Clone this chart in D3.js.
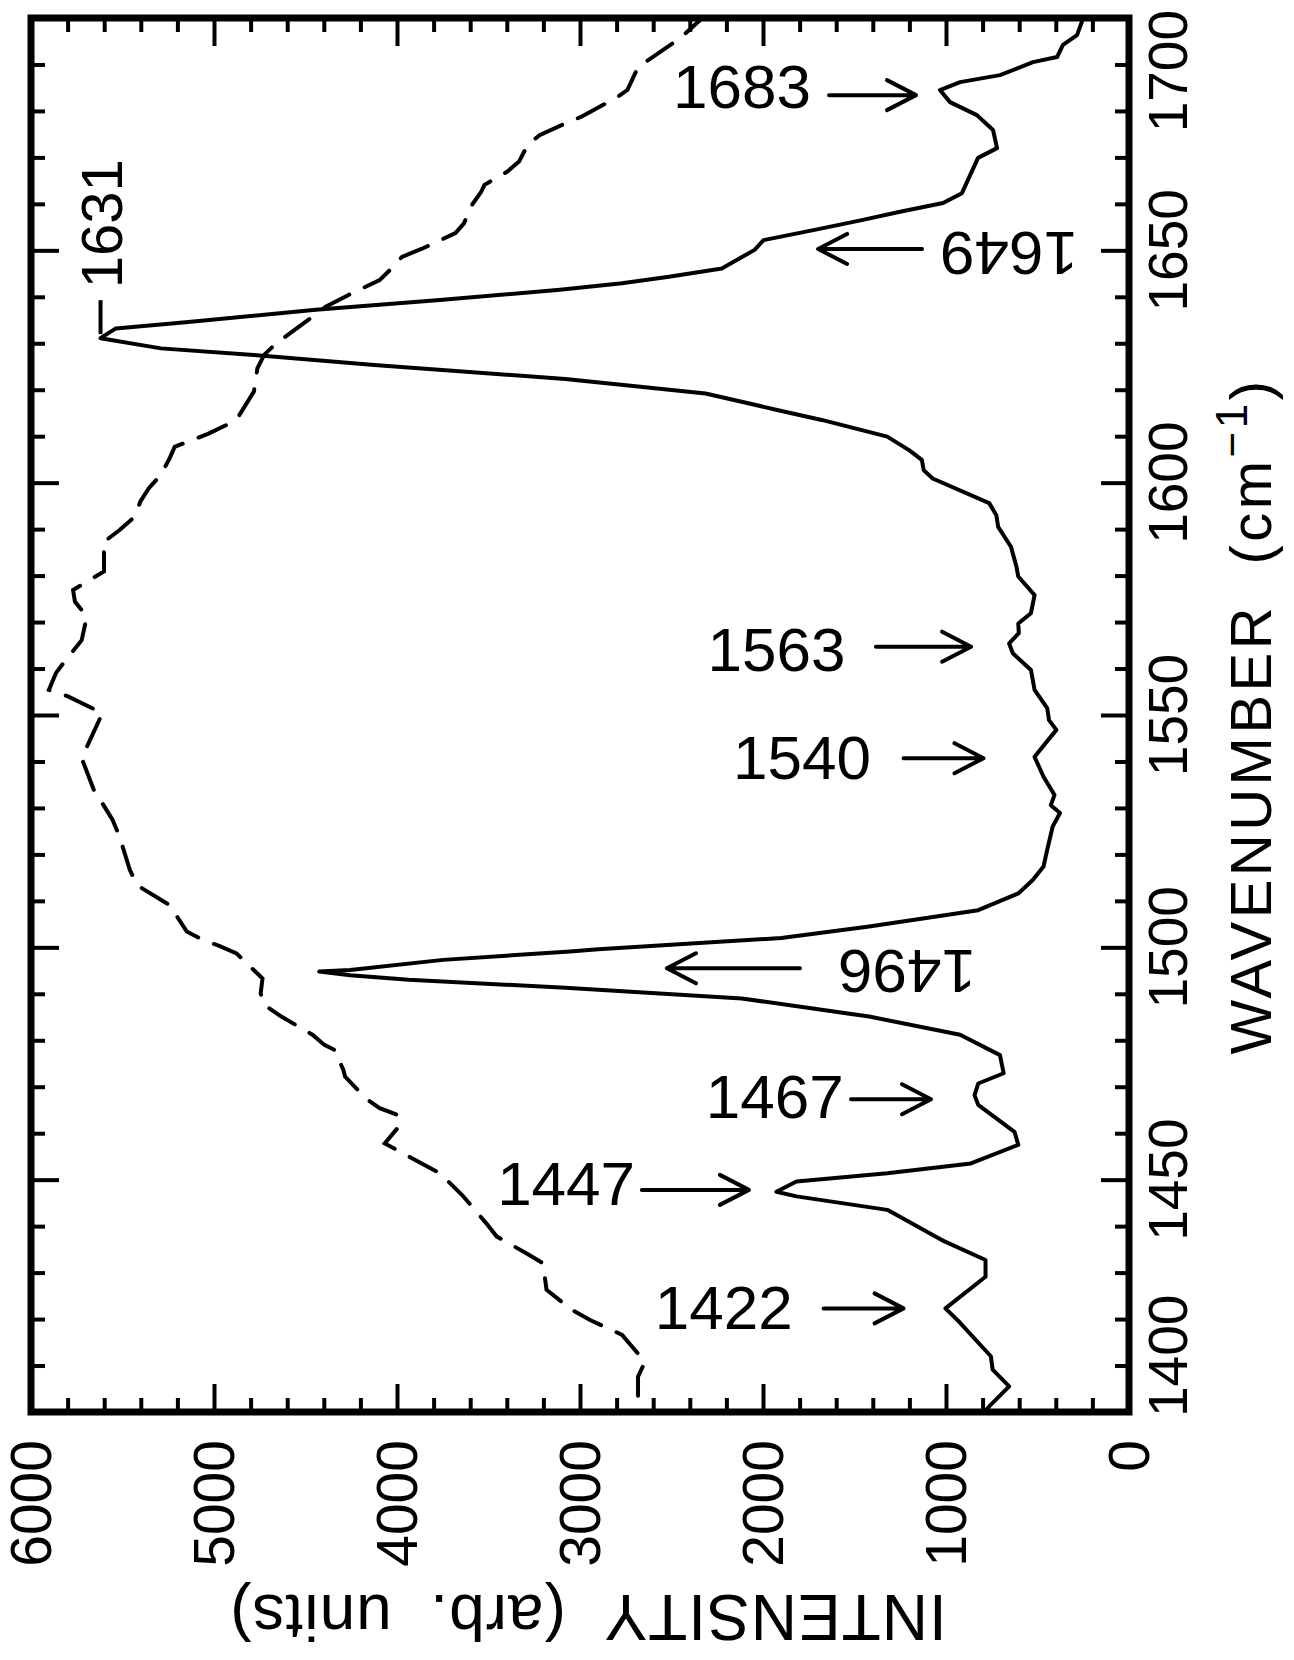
<!DOCTYPE html>
<html>
<head>
<meta charset="utf-8">
<script src="https://cdn.jsdelivr.net/npm/d3@7"></script>
<style>
body { margin: 0; background: #fff; }
text { font-family: "Liberation Sans", Arial, sans-serif; fill: #000; }
</style>
</head>
<body>
<svg id="chart" width="1294" height="1660"></svg>
<script>
// solid curve
const solidWavenumber = [1400, 1401.2, 1405.5, 1409.1, 1412.0, 1419.2, 1422.3, 1429.1, 1432.7, 1437.0,
  1443.5, 1446.4, 1447.4, 1449.6, 1451.4, 1453.5, 1457.5, 1460.3, 1466.1, 1468.2,
  1470.7, 1472.9, 1476.8, 1481.2, 1485.1, 1489.0, 1491.3, 1493.0, 1494.0, 1494.8,
  1495.1, 1497.3, 1499.1, 1499.6, 1502.0, 1504.5, 1508.0, 1511.6, 1514.5, 1517.4,
  1521.0, 1526.0, 1528.9, 1530.6, 1532.8, 1536.7, 1541.0, 1546.8, 1548.9, 1551.5,
  1555.4, 1559.7, 1563.3, 1565.4, 1567.6, 1569.7, 1571.9, 1575.8, 1579.8, 1581.9,
  1586.2, 1590.5, 1593.0, 1595.6, 1600.9, 1602.7, 1604.9, 1607.0, 1609.9, 1613.5,
  1615.6, 1619.2, 1622.3, 1625.3, 1627.5, 1628.9, 1631.1, 1633.2, 1634.6, 1637.2,
  1639.3, 1641.5, 1642.9, 1644.3, 1646.1, 1650.1, 1652.2, 1654.4, 1656.5, 1658.3,
  1660.2, 1662.3, 1669.9, 1672.0, 1675.9, 1679.1, 1681.9, 1684.5, 1686.2, 1687.7,
  1690.5, 1691.6, 1694.2, 1696.3, 1700]
const solidIntensity = [790, 764, 655, 745, 755, 923, 1003, 784, 784, 1023,
  1321, 1817, 1927, 1817, 1321, 864, 605, 626, 824, 844,
  824, 685, 705, 923, 1420, 2116, 3080, 3936, 4256, 4425,
  4256, 3748, 3055, 2900, 1900, 1420, 824, 605, 526, 467,
  447, 417, 377, 427, 407, 467, 516, 397, 437, 447,
  516, 536, 635, 655, 602, 605, 536, 516, 605, 615,
  645, 715, 725, 764, 1073, 1122, 1132, 1202, 1321, 1679,
  1917, 2314, 3080, 4124, 4782, 5290, 5620, 5536, 5140, 4444,
  3766, 3109, 2771, 2514, 2225, 2046, 1997, 1718, 1460, 1251,
  1016, 913, 825, 721, 743, 831, 978, 1033, 923, 705,
  525, 393, 361, 284, 250]

// dashed curve
const dashedWavenumber = [1403.5, 1407.6, 1410.8, 1416.6, 1419.8, 1422.0, 1426.3, 1432.0, 1434.2, 1437.8,
  1440.6, 1446.7, 1451.4, 1455.0, 1457.8, 1461.8, 1464.0, 1465.4, 1467.5, 1472.2,
  1473.6, 1477.9, 1479.0, 1481.2, 1485.1, 1487.6, 1490.1, 1493.3, 1498.7, 1500.2,
  1501.6, 1503.4, 1509.1, 1513.4, 1516.7, 1523.8, 1527.4, 1531.0, 1533.9, 1540.7,
  1543.9, 1547.9, 1550.4, 1554.0, 1555.4, 1559.0, 1561.5, 1566.1, 1571.2, 1574.4,
  1576.9, 1580.9, 1584.8, 1587.0, 1589.8, 1592.7, 1595.9, 1598.8, 1601.7, 1605.2,
  1607.7, 1610.6, 1612.4, 1614.2, 1619.6, 1624.6, 1627.5, 1630.0, 1634.6, 1637.9,
  1640.4, 1643.6, 1646.1, 1648.6, 1650.4, 1653.7, 1655.8, 1659.4, 1662.6, 1664.1,
  1666.9, 1669.1, 1672.7, 1674.8, 1677.3, 1678.8, 1683.1, 1684.5, 1689.5, 1691.3,
  1695.6, 1699.2, 1700]
const dashedIntensity = [2683, 2683, 2645, 2770, 2945, 3045, 3183, 3202, 3296, 3456,
  3512, 3644, 3766, 3936, 4067, 3982, 4002, 4095, 4171, 4284,
  4293, 4340, 4397, 4462, 4632, 4726, 4745, 4735, 4877, 4965,
  5060, 5149, 5243, 5422, 5460, 5516, 5554, 5610, 5657, 5723,
  5686, 5639, 5610, 5798, 5902, 5864, 5817, 5723, 5695, 5760,
  5770, 5601, 5601, 5610, 5516, 5432, 5403, 5356, 5290, 5243,
  5215, 5027, 4933, 4867, 4782, 4763, 4726, 4660, 4500, 4387,
  4265, 4095, 4030, 3973, 3860, 3681, 3634, 3597, 3540, 3522,
  3399, 3333, 3286, 3221, 3080, 2990, 2791, 2741, 2682, 2613,
  2454, 2354, 2330]

// ticks and labels
const wavenumberTicks = d3.range(1400, 1701, 10)
const wavenumberLabels = [1400, 1450, 1500, 1550, 1600, 1650, 1700]
const intensityTicks = d3.range(0, 6001, 200)
const intensityLabels = [0, 1000, 2000, 3000, 4000, 5000, 6000]
const peakLabels = ['1683', '1649', '1631', '1563', '1540', '1496', '1467', '1447', '1422']

const svg = d3.select('#chart')
const frameL = 31, frameR = 1129, frameT = 18, frameB = 1412

// chart is turned on its side: intensity runs right->left, wavenumber bottom->top
const x = d3.scaleLinear().domain([6000, 0]).range([frameL, frameR])
const y = d3.scaleLinear().domain([1400, 1700]).range([frameB, frameT])

const isMajorW = d => d % 50 === 0
const isMajorI = d => d % 1000 === 0

function tickAxis(axis, tr) {
  const g = svg.append('g').attr('transform', tr).call(axis)
  g.select('.domain').remove()
  g.selectAll('.tick line').attr('stroke', '#000').attr('stroke-width', 4)
  g.selectAll('.tick text').remove()
  return g
}

// inward ticks on all four sides, major ones twice as long
tickAxis(d3.axisBottom(x).tickValues(intensityTicks).tickSizeOuter(0), `translate(0,${frameB})`)
  .selectAll('.tick line').attr('y2', d => isMajorI(d) ? -28 : -14)
tickAxis(d3.axisTop(x).tickValues(intensityTicks).tickSizeOuter(0), `translate(0,${frameT})`)
  .selectAll('.tick line').attr('y2', d => isMajorI(d) ? 28 : 14)
tickAxis(d3.axisLeft(y).tickValues(wavenumberTicks).tickSizeOuter(0), `translate(${frameL},0)`)
  .selectAll('.tick line').attr('x2', d => isMajorW(d) ? 28 : 14)
tickAxis(d3.axisRight(y).tickValues(wavenumberTicks).tickSizeOuter(0), `translate(${frameR},0)`)
  .selectAll('.tick line').attr('x2', d => isMajorW(d) ? -28 : -14)

// tick labels, rotated
svg.append('g').selectAll('text')
  .data(wavenumberLabels)
  .enter().append('text')
    .attr('font-size', 55)
    .attr('text-anchor', d => d === 1700 ? 'end' : d === 1400 ? 'start' : 'middle')
    .attr('transform', d => {
      let yy = y(d)
      if (d === 1700) yy = frameT - 8
      if (d === 1400) yy = frameB + 5
      return `translate(1187,${yy}) rotate(-90)`
    })
    .text(d => d)

svg.append('g').selectAll('text')
  .data(intensityLabels)
  .enter().append('text')
    .attr('font-size', 57)
    .attr('text-anchor', 'end')
    .attr('transform', d => `translate(${x(d) + 20},1440) rotate(-90)`)
    .text(d => d)

// axis titles
const wTitle = svg.append('text')
  .attr('font-size', 58)
  .attr('letter-spacing', 3.5)
  .attr('text-anchor', 'middle')
  .attr('transform', 'translate(1271,716) rotate(-90)')
wTitle.append('tspan').text('WAVENUMBER\u00a0\u00a0(cm')
wTitle.append('tspan').attr('dy', -24).attr('font-size', 44).text('\u22121')
wTitle.append('tspan').attr('dy', 24).text(')')

svg.append('text')
  .attr('font-size', 64)
  .attr('letter-spacing', 1)
  .attr('text-anchor', 'middle')
  .attr('transform', 'translate(588,1595) rotate(180)')
  .text('INTENSITY\u00a0\u00a0(arb.\u00a0\u00a0units)')

// curves
const line = d3.line()
  .x(d => x(d.v))
  .y(d => y(d.w))

const solid = solidWavenumber.map((w, i) => ({w, v: solidIntensity[i]}))
const dashed = dashedWavenumber.map((w, i) => ({w, v: dashedIntensity[i]}))

svg.append('defs').append('clipPath').attr('id', 'plot')
  .append('rect').attr('x', frameL).attr('y', frameT).attr('width', frameR - frameL).attr('height', frameB - frameT)

svg.append('path')
  .datum(dashed)
  .attr('clip-path', 'url(#plot)')
  .attr('fill', 'none')
  .attr('stroke', '#000')
  .attr('stroke-width', 4)
  .attr('stroke-linecap', 'round')
  .attr('stroke-dasharray', '30,17')
  .attr('d', line)

svg.append('path')
  .datum(solid)
  .attr('clip-path', 'url(#plot)')
  .attr('fill', 'none')
  .attr('stroke', '#000')
  .attr('stroke-width', 4)
  .attr('stroke-linejoin', 'round')
  .attr('d', line)

// frame
svg.append('rect')
  .attr('x', frameL).attr('y', frameT)
  .attr('width', frameR - frameL).attr('height', frameB - frameT)
  .attr('fill', 'none').attr('stroke', '#000').attr('stroke-width', 7)

// peak annotations: at = arrow wavenumber, textAt = text centre,
// textEnd/tail/tip in intensity units, flip = upside-down label with arrow to the left
const annotations = [
  {at: 1683.4, textAt: 1685.3, textEnd: 1738, tail: 1639, tip: 1164},
  {at: 1650.3, textAt: 1649.3, textEnd: 1033, tail: 1131, tip: 1699, flip: true},
  {at: 1564.7, textAt: 1564.2, textEnd: 1549, tail: 1383, tip: 863},
  {at: 1540.7, textAt: 1540.9, textEnd: 1410, tail: 1232, tip: 795},
  {at: 1495.5, textAt: 1494.8, textEnd: 1590, tail: 1798, tip: 2525, flip: true},
  {at: 1467.3, textAt: 1467.9, textEnd: 1559, tail: 1519, tip: 1082},
  {at: 1447.8, textAt: 1449.1, textEnd: 2699, tail: 2662, tip: 2077},
  {at: 1422.3, textAt: 1422.5, textEnd: 1838, tail: 1669, tip: 1232}
]
const annLabels = peakLabels.filter(l => l !== '1631')
const cap = 43
const ann = svg.append('g')
annotations.forEach((a, i) => {
  const ay = y(a.at)
  const ty = y(a.textAt)
  if (a.flip) {
    ann.append('text').attr('font-size', 62).attr('text-anchor', 'end')
      .attr('transform', `translate(${x(a.textEnd)},${ty - cap / 2}) rotate(180)`)
      .text(annLabels[i])
  } else {
    ann.append('text').attr('font-size', 62).attr('text-anchor', 'end')
      .attr('x', x(a.textEnd)).attr('y', ty + cap / 2)
      .text(annLabels[i])
  }
  const x1 = x(a.tail), x2 = x(a.tip)
  const dir = x2 > x1 ? 1 : -1
  const p = d3.path()
  p.moveTo(x1, ay); p.lineTo(x2, ay)
  p.moveTo(x2 - dir * 29, ay - 15); p.lineTo(x2, ay); p.lineTo(x2 - dir * 29, ay + 15)
  ann.append('path').attr('d', p.toString())
    .attr('fill', 'none').attr('stroke', '#000').attr('stroke-width', 4)
    .attr('stroke-linecap', 'round').attr('stroke-linejoin', 'round')
})

// 1631 label with a short leader from the peak
const peakW = 1631.1, peakV = 5620
ann.append('line')
  .attr('x1', x(peakV)).attr('x2', x(peakV))
  .attr('y1', y(peakW) - 4).attr('y2', y(peakW) - 38)
  .attr('stroke', '#000').attr('stroke-width', 4)
ann.append('text').attr('font-size', 58).attr('text-anchor', 'start')
  .attr('transform', `translate(${x(peakV) + 21},${y(peakW) - 50}) rotate(-90)`)
  .text(peakLabels[2])
</script>
</body>
</html>
